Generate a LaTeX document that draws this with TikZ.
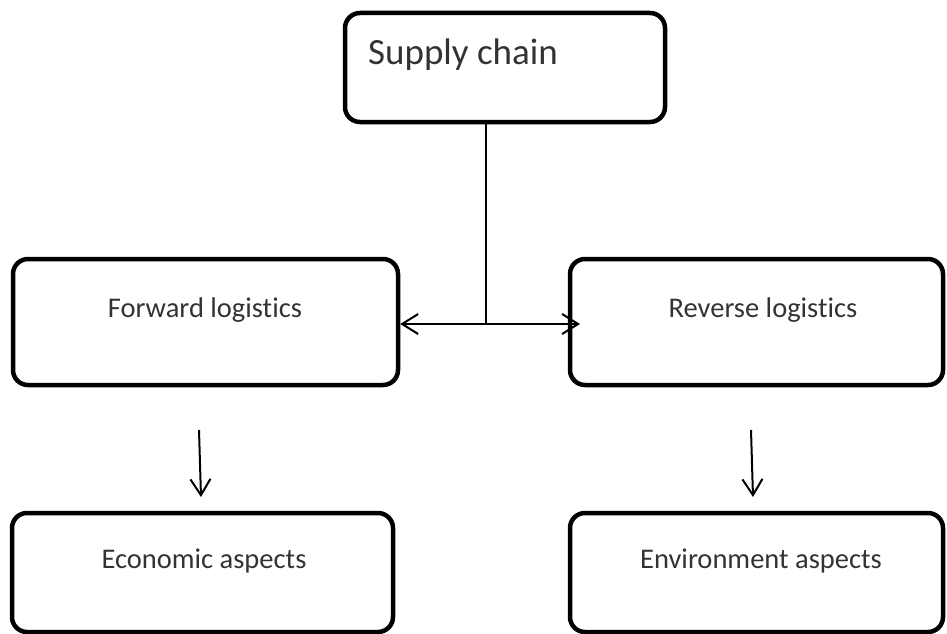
\documentclass[tikz,border=0pt]{standalone}
\usepackage{fontspec}
\setmainfont[Ligatures={NoCommon}]{Carlito}
\usetikzlibrary{arrows.meta}
\begin{document}
\begin{tikzpicture}[x=1pt,y=-1pt,
  box/.style={draw=black, line width=4.5pt, rounded corners=15pt, inner sep=0pt, minimum width=#1},
  lbl/.style={text=black!80, font=\fontsize{28.5}{32}\selectfont, inner sep=0pt},
  tip/.style={Straight Barb[length=16pt,width=20pt,line width=2pt]},
  conn/.style={line width=2pt, -{Straight Barb[length=16pt,width=20pt,line width=2pt]}}
  ]
\useasboundingbox (0,0) rectangle (947,634);
\node[box=320pt, minimum height=109pt] (sc) at (505,67.5) {};
\node[box=385pt, minimum height=126pt] (fwd) at (205.5,322) {};
\node[box=373pt, minimum height=126pt] (rev) at (756.5,322) {};
\node[box=381pt, minimum height=119pt] (eco) at (202.5,572.5) {};
\node[box=373pt, minimum height=119pt] (env) at (756.5,572.5) {};
\node[lbl, font=\fontsize{37}{42}\selectfont, anchor=base west] (sct) at (368,65) {Supply chain};
\node[lbl, anchor=base] (fwdt) at (205,317) {Forward logistics};
\node[lbl, anchor=base] (revt) at (763,317) {Reverse logistics};
\node[lbl, anchor=base] (ecot) at (204,568) {Economic aspects};
\node[lbl, anchor=base] (envt) at (761,568) {Environment aspects};
\coordinate (j) at (486,324);
\coordinate (rtip) at (580,324);
\coordinate (a1) at (199,430);
\coordinate (a2) at (201,497);
\coordinate (b1) at (751,430);
\coordinate (b2) at (753,497);
\draw[line width=1.4pt] (sc.south -| j) -- (j);
\draw[line width=2pt, {Straight Barb[length=16pt,width=20pt,line width=2pt]}-{Straight Barb[length=16pt,width=20pt,line width=2pt]}] (fwd.east |- j) -- (rtip);
\draw[conn] (a1) -- (a2);
\draw[conn] (b1) -- (b2);
\end{tikzpicture}
\end{document}
